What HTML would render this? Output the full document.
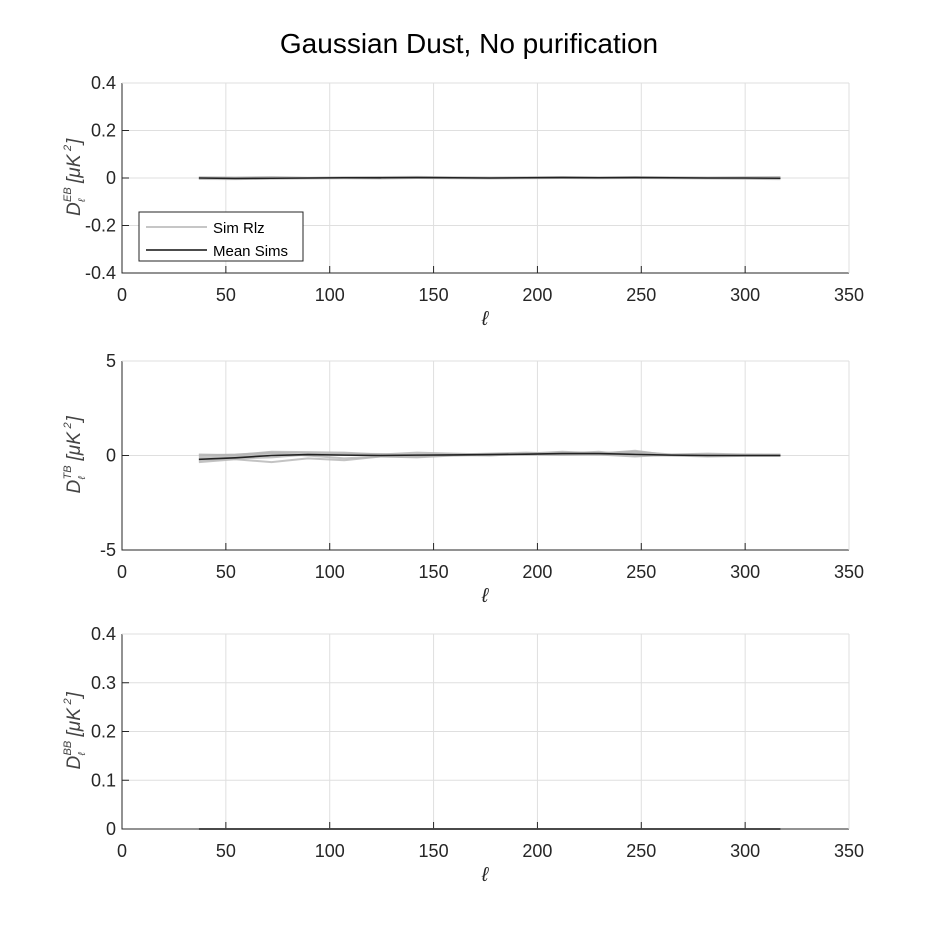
<!DOCTYPE html>
<html><head><meta charset="utf-8"><style>
body{margin:0;background:#fff;font-family:"Liberation Sans",sans-serif}
svg text{font-family:"Liberation Sans",sans-serif;fill:#262626}
</style></head><body>
<svg id="fig" width="938" height="938" viewBox="0 0 938 938" xmlns="http://www.w3.org/2000/svg">
<rect width="938" height="938" fill="#fff"/>
<text x="469" y="53" font-size="28" text-anchor="middle" fill="#000" style="fill:#000">Gaussian Dust, No purification</text>
</svg>
<script>
const ells=[37,54.5,72,89.5,107,124.5,142,159.5,177,194.5,212,229.5,247,264.5,282,299.5,317];
const ebMean=[0,-0.002,-0.001,0,0.001,0.001,0.002,0.001,0,0.001,0.002,0.001,0.002,0.001,0,0,-0.001];
const ebSims=[
[0.003,0.002,0.004,0.001,0.003,0.004,0.005,0.003,0.002,0.003,0.004,0.003,0.004,0.003,0.002,0.003,0.004],
[-0.004,-0.005,-0.003,-0.002,-0.001,-0.002,0,-0.001,-0.002,-0.001,0,-0.001,0,-0.001,-0.002,-0.003,-0.005]];
const tbMean=[-0.2,-0.12,0.0,0.05,0.02,0.0,0.02,0.03,0.05,0.07,0.1,0.1,0.06,0.02,0.0,0.0,0.0];
const tbSims=[
[-0.35,-0.2,-0.35,-0.15,-0.25,-0.05,-0.1,0,0.02,0.05,0.03,0.05,-0.05,0.05,0.03,0,0.02],
[0.05,0.02,0.2,0.18,0.15,0.05,0.15,0.1,0.05,0.1,0.2,0.12,0.2,0.05,0.1,0.05,0.05],
[-0.1,-0.05,0.1,0.0,-0.15,-0.05,-0.05,0.05,0.1,0.15,0.1,0.2,0.0,0.0,0.05,0.02,0.0],
[-0.25,-0.15,-0.1,0.05,0.1,0.08,0.0,0.0,0.08,0.05,0.15,0.05,0.15,0.0,-0.05,-0.02,-0.02],
[0.0,0.05,0.15,0.1,0.1,0.0,0.05,0.05,0.0,0.1,0.05,0.1,0.25,0.0,0.0,0.05,0.02]];
const bbMean=[0,0,0,0,0,0,0,0,0,0,0,0,0,0,0,0,0];
const xTicks=[0,50,100,150,200,250,300,350];
const panels=[
 {key:'eb',top:83,bot:273,ymin:-0.4,ymax:0.4,ticks:[-0.4,-0.2,0,0.2,0.4],sup:'EB',mean:ebMean,sims:ebSims,legend:true},
 {key:'tb',top:361,bot:550,ymin:-5,ymax:5,ticks:[-5,0,5],sup:'TB',mean:tbMean,sims:tbSims},
 {key:'bb',top:634,bot:829,ymin:0,ymax:0.4,ticks:[0,0.1,0.2,0.3,0.4],sup:'BB',mean:bbMean,sims:[bbMean]}];
const svg=document.getElementById('fig');
const NS='http://www.w3.org/2000/svg';
const X0=122,X1=849;
const xs=v=>X0+(X1-X0)*v/350;
function mk(t,a,p){const e=document.createElementNS(NS,t);for(const k in a)e.setAttribute(k,a[k]);(p||svg).appendChild(e);return e;}
panels.forEach(P=>{
 const ys=v=>P.bot-(P.bot-P.top)*(v-P.ymin)/(P.ymax-P.ymin);
 const g=mk('g',{});
 
 
 xTicks.forEach(t=>{
  const l=mk('line',{x1:xs(t),x2:xs(t),y1:P.top,y2:P.bot,stroke:'#dfdfdf','stroke-width':1},g);
  
  mk('line',{x1:xs(t),x2:xs(t),y1:P.bot,y2:P.bot-7,stroke:'#262626'},g);
  const tx=mk('text',{x:xs(t),y:P.bot+28,'font-size':18,'text-anchor':'middle'},g);tx.textContent=t;
  
 });
 P.ticks.forEach(t=>{
  const l=mk('line',{x1:X0,x2:X1,y1:ys(t),y2:ys(t),stroke:'#dfdfdf'},g);
  
  mk('line',{x1:X0,x2:X0+7,y1:ys(t),y2:ys(t),stroke:'#262626'},g);
  const tx=mk('text',{x:X0-6,y:ys(t)+6,'font-size':18,'text-anchor':'end'},g);tx.textContent=t;
  
 });
 const ax=mk('path',{d:`M${X0},${P.top}V${P.bot}H${X1}`,fill:'none',stroke:'#262626'},g);
 
 mk('line',{x1:X0,x2:X1,y1:P.top,y2:P.top,stroke:'#dfdfdf'},g);
 mk('line',{x1:X1,x2:X1,y1:P.top,y2:P.bot,stroke:'#dfdfdf'},g);
 P.sims.forEach(s=>{
  const pl=mk('polyline',{points:s.map((v,i)=>xs(ells[i])+','+ys(v)).join(' '),fill:'none',stroke:'#b4b4b4','stroke-width':2,opacity:0.8},g);
  
 });
 const m=mk('polyline',{points:P.mean.map((v,i)=>xs(ells[i])+','+ys(v)).join(' '),fill:'none',stroke:'#222','stroke-width':1.6},g);
 
 const xl=mk('text',{x:485,y:P.bot+52,'font-size':20,'text-anchor':'middle','font-family':'Liberation Serif','font-style':'italic'},g);
 xl.textContent='ℓ';
 const cy=(P.top+P.bot)/2;
 const yg=mk('g',{transform:`translate(80,${cy+38}) rotate(-90)`,fill:'#444'},g);
 
 const st={'font-family':'Liberation Serif','font-style':'italic',fill:'#444',style:'fill:#444'};
 mk('text',Object.assign({x:0,y:0,'font-size':19},st),yg).textContent='D';
 mk('text',Object.assign({x:14,y:-9,'font-size':11},st),yg).textContent=P.sup;
 mk('text',Object.assign({x:14,y:5,'font-size':10},st),yg).textContent='ℓ';
 mk('text',Object.assign({x:33,y:0,'font-size':19},st),yg).textContent='[μK';
 mk('text',Object.assign({x:65,y:-9,'font-size':11},st),yg).textContent='2';
 mk('text',Object.assign({x:72,y:0,'font-size':19},st),yg).textContent=']';
 if(P.legend){
  const lg=mk('g',{},g);
  
  mk('rect',{x:139,y:212,width:164,height:49,fill:'#fff',stroke:'#262626'},lg);
  mk('line',{x1:146,x2:207,y1:227,y2:227,stroke:'#b4b4b4','stroke-width':1.5},lg);
  mk('line',{x1:146,x2:207,y1:250,y2:250,stroke:'#111','stroke-width':1.5},lg);
  const a=mk('text',{x:213,y:233,'font-size':15,style:'fill:#000'},lg);a.textContent='Sim Rlz';
  
  const b=mk('text',{x:213,y:256,'font-size':15,style:'fill:#000'},lg);b.textContent='Mean Sims';
  
 }
});
</script>
</body></html>
